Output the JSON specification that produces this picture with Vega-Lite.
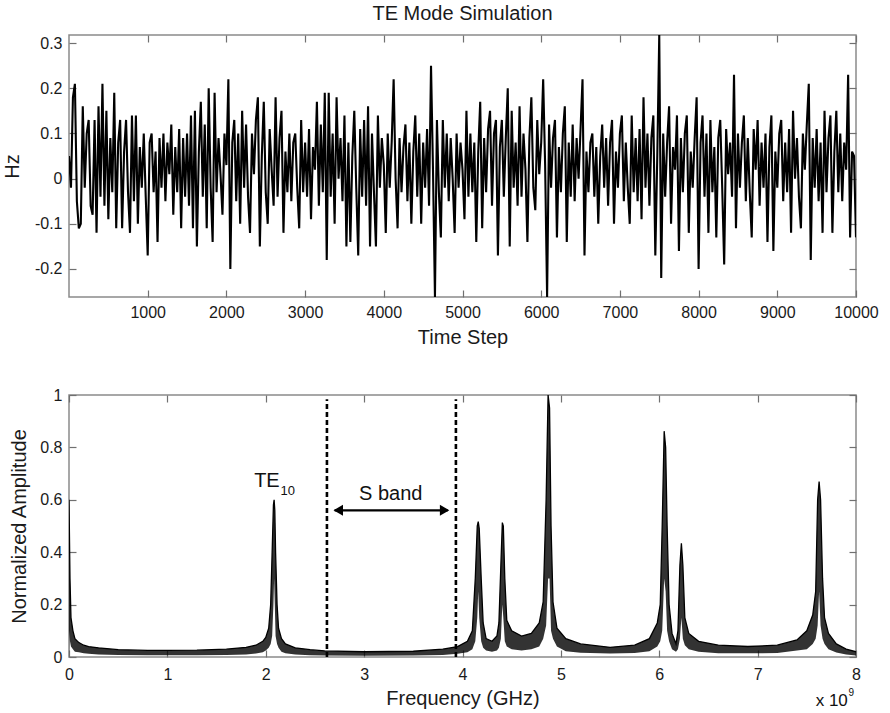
{
  "$schema": "https://vega.github.io/schema/vega-lite/v6.json",
  "padding": {"left": 1, "top": 3, "right": 14, "bottom": 5},
  "spacing": 38,
  "datasets": {
    "ts": [
      {"t":0,"v":0.05},{"t":25,"v":-0.02},{"t":50,"v":0.18},{"t":75,"v":0.21},{"t":100,"v":-0.05},{"t":125,"v":-0.11},{"t":150,"v":-0.1},{"t":175,"v":0.16},{"t":200,"v":-0.02},{"t":225,"v":0.1},
      {"t":250,"v":0.13},{"t":275,"v":-0.06},{"t":300,"v":-0.08},{"t":325,"v":0.13},{"t":350,"v":-0.12},{"t":375,"v":0.16},{"t":400,"v":-0.04},{"t":425,"v":0.21},{"t":450,"v":-0.06},{"t":475,"v":0.15},
      {"t":500,"v":-0.09},{"t":525,"v":0.09},{"t":550,"v":-0.03},{"t":575,"v":0.19},{"t":600,"v":-0.11},{"t":625,"v":0.08},{"t":650,"v":0.13},{"t":675,"v":-0.11},{"t":700,"v":0.06},{"t":725,"v":0.13},
      {"t":750,"v":-0.03},{"t":775,"v":-0.12},{"t":800,"v":0.14},{"t":825,"v":-0.05},{"t":850,"v":0.14},{"t":875,"v":-0.1},{"t":900,"v":0.07},{"t":925,"v":-0.02},{"t":950,"v":0.1},{"t":975,"v":-0.04},
      {"t":1000,"v":-0.17},{"t":1025,"v":0.08},{"t":1050,"v":0.1},{"t":1075,"v":-0.03},{"t":1100,"v":0.06},{"t":1125,"v":-0.14},{"t":1150,"v":0.09},{"t":1175,"v":-0.02},{"t":1200,"v":0.1},{"t":1225,"v":-0.05},
      {"t":1250,"v":0.08},{"t":1275,"v":0.01},{"t":1300,"v":0.12},{"t":1325,"v":-0.08},{"t":1350,"v":0.07},{"t":1375,"v":-0.03},{"t":1400,"v":0.11},{"t":1425,"v":-0.11},{"t":1450,"v":0.09},{"t":1475,"v":-0.04},
      {"t":1500,"v":0.1},{"t":1525,"v":-0.06},{"t":1550,"v":0.14},{"t":1575,"v":-0.11},{"t":1600,"v":0.15},{"t":1625,"v":-0.15},{"t":1650,"v":0.06},{"t":1675,"v":0.17},{"t":1700,"v":-0.04},{"t":1725,"v":0.12},
      {"t":1750,"v":-0.11},{"t":1775,"v":0.2},{"t":1800,"v":-0.02},{"t":1825,"v":-0.14},{"t":1850,"v":0.19},{"t":1875,"v":-0.03},{"t":1900,"v":0.09},{"t":1925,"v":0.01},{"t":1950,"v":-0.08},{"t":1975,"v":0.1},
      {"t":2000,"v":0.03},{"t":2025,"v":0.22},{"t":2050,"v":-0.2},{"t":2075,"v":0.08},{"t":2100,"v":0.13},{"t":2125,"v":-0.05},{"t":2150,"v":0.1},{"t":2175,"v":-0.1},{"t":2200,"v":0.15},{"t":2225,"v":-0.02},
      {"t":2250,"v":0.12},{"t":2275,"v":-0.04},{"t":2300,"v":-0.12},{"t":2325,"v":0.1},{"t":2350,"v":0.01},{"t":2375,"v":0.13},{"t":2400,"v":0.18},{"t":2425,"v":-0.15},{"t":2450,"v":0.05},{"t":2475,"v":0.17},
      {"t":2500,"v":-0.03},{"t":2525,"v":-0.1},{"t":2550,"v":0.11},{"t":2575,"v":0.02},{"t":2600,"v":-0.06},{"t":2625,"v":0.18},{"t":2650,"v":-0.04},{"t":2675,"v":0.09},{"t":2700,"v":0.15},{"t":2725,"v":-0.12},
      {"t":2750,"v":0.06},{"t":2775,"v":-0.03},{"t":2800,"v":0.1},{"t":2825,"v":-0.05},{"t":2850,"v":0.08},{"t":2875,"v":0.1},{"t":2900,"v":-0.02},{"t":2925,"v":-0.11},{"t":2950,"v":0.13},{"t":2975,"v":-0.03},
      {"t":3000,"v":0.08},{"t":3025,"v":-0.04},{"t":3050,"v":0.11},{"t":3075,"v":-0.09},{"t":3100,"v":0.07},{"t":3125,"v":0.02},{"t":3150,"v":0.17},{"t":3175,"v":-0.06},{"t":3200,"v":0.12},{"t":3225,"v":-0.03},
      {"t":3250,"v":0.19},{"t":3275,"v":-0.18},{"t":3300,"v":0.19},{"t":3325,"v":-0.04},{"t":3350,"v":0.1},{"t":3375,"v":-0.1},{"t":3400,"v":0.18},{"t":3425,"v":0.0},{"t":3450,"v":0.09},{"t":3475,"v":-0.05},
      {"t":3500,"v":0.14},{"t":3525,"v":-0.15},{"t":3550,"v":0.08},{"t":3575,"v":-0.14},{"t":3600,"v":0.05},{"t":3625,"v":0.15},{"t":3650,"v":-0.02},{"t":3675,"v":-0.17},{"t":3700,"v":0.11},{"t":3725,"v":-0.04},
      {"t":3750,"v":0.13},{"t":3775,"v":-0.06},{"t":3800,"v":0.16},{"t":3825,"v":-0.15},{"t":3850,"v":0.1},{"t":3875,"v":-0.03},{"t":3900,"v":-0.15},{"t":3925,"v":0.14},{"t":3950,"v":-0.02},{"t":3975,"v":0.09},
      {"t":4000,"v":0.03},{"t":4025,"v":-0.12},{"t":4050,"v":0.1},{"t":4075,"v":-0.02},{"t":4100,"v":0.08},{"t":4125,"v":0.22},{"t":4150,"v":0.0},{"t":4175,"v":-0.11},{"t":4200,"v":0.09},{"t":4225,"v":-0.03},
      {"t":4250,"v":0.07},{"t":4275,"v":0.12},{"t":4300,"v":-0.05},{"t":4325,"v":0.08},{"t":4350,"v":-0.1},{"t":4375,"v":0.06},{"t":4400,"v":0.14},{"t":4425,"v":-0.04},{"t":4450,"v":0.1},{"t":4475,"v":-0.1},
      {"t":4500,"v":0.08},{"t":4525,"v":-0.02},{"t":4550,"v":0.11},{"t":4575,"v":-0.06},{"t":4600,"v":0.25},{"t":4625,"v":0.02},{"t":4650,"v":-0.262},{"t":4675,"v":0.13},{"t":4700,"v":-0.03},{"t":4725,"v":-0.13},
      {"t":4750,"v":0.13},{"t":4775,"v":-0.02},{"t":4800,"v":0.1},{"t":4825,"v":-0.05},{"t":4850,"v":0.09},{"t":4875,"v":0.0},{"t":4900,"v":-0.12},{"t":4925,"v":0.1},{"t":4950,"v":-0.02},{"t":4975,"v":0.08},
      {"t":5000,"v":0.02},{"t":5025,"v":-0.09},{"t":5050,"v":0.15},{"t":5075,"v":-0.04},{"t":5100,"v":0.1},{"t":5125,"v":-0.03},{"t":5150,"v":0.08},{"t":5175,"v":-0.14},{"t":5200,"v":0.06},{"t":5225,"v":0.17},
      {"t":5250,"v":-0.11},{"t":5275,"v":0.09},{"t":5300,"v":-0.03},{"t":5325,"v":0.11},{"t":5350,"v":0.15},{"t":5375,"v":-0.06},{"t":5400,"v":0.1},{"t":5425,"v":0.13},{"t":5450,"v":-0.17},{"t":5475,"v":0.07},
      {"t":5500,"v":0.13},{"t":5525,"v":-0.04},{"t":5550,"v":0.09},{"t":5575,"v":0.2},{"t":5600,"v":-0.15},{"t":5625,"v":0.15},{"t":5650,"v":-0.02},{"t":5675,"v":0.08},{"t":5700,"v":-0.06},{"t":5725,"v":0.16},
      {"t":5750,"v":-0.04},{"t":5775,"v":0.1},{"t":5800,"v":0.02},{"t":5825,"v":-0.14},{"t":5850,"v":0.09},{"t":5875,"v":0.18},{"t":5900,"v":-0.02},{"t":5925,"v":-0.07},{"t":5950,"v":0.13},{"t":5975,"v":0.01},
      {"t":6000,"v":0.08},{"t":6025,"v":0.22},{"t":6050,"v":0.03},{"t":6075,"v":-0.262},{"t":6100,"v":0.12},{"t":6125,"v":-0.02},{"t":6150,"v":0.09},{"t":6175,"v":0.13},{"t":6200,"v":-0.13},{"t":6225,"v":0.07},
      {"t":6250,"v":-0.03},{"t":6275,"v":0.1},{"t":6300,"v":0.16},{"t":6325,"v":-0.14},{"t":6350,"v":0.08},{"t":6375,"v":-0.04},{"t":6400,"v":0.12},{"t":6425,"v":-0.05},{"t":6450,"v":0.09},{"t":6475,"v":0.0},
      {"t":6500,"v":0.11},{"t":6525,"v":0.22},{"t":6550,"v":-0.17},{"t":6575,"v":0.06},{"t":6600,"v":-0.03},{"t":6625,"v":0.08},{"t":6650,"v":0.1},{"t":6675,"v":-0.04},{"t":6700,"v":0.07},{"t":6725,"v":-0.1},
      {"t":6750,"v":0.05},{"t":6775,"v":0.12},{"t":6800,"v":-0.02},{"t":6825,"v":0.09},{"t":6850,"v":-0.06},{"t":6875,"v":0.08},{"t":6900,"v":0.13},{"t":6925,"v":-0.1},{"t":6950,"v":0.06},{"t":6975,"v":-0.02},
      {"t":7000,"v":0.1},{"t":7025,"v":0.14},{"t":7050,"v":-0.05},{"t":7075,"v":0.08},{"t":7100,"v":-0.02},{"t":7125,"v":-0.1},{"t":7150,"v":0.14},{"t":7175,"v":-0.03},{"t":7200,"v":0.09},{"t":7225,"v":-0.05},
      {"t":7250,"v":0.11},{"t":7275,"v":-0.09},{"t":7300,"v":0.18},{"t":7325,"v":-0.02},{"t":7350,"v":0.1},{"t":7375,"v":-0.06},{"t":7400,"v":0.09},{"t":7425,"v":0.14},{"t":7450,"v":-0.17},{"t":7475,"v":0.05},
      {"t":7500,"v":0.318},{"t":7525,"v":-0.22},{"t":7550,"v":0.1},{"t":7575,"v":-0.04},{"t":7600,"v":0.08},{"t":7625,"v":0.16},{"t":7650,"v":-0.1},{"t":7675,"v":0.07},{"t":7700,"v":0.02},{"t":7725,"v":0.14},
      {"t":7750,"v":-0.16},{"t":7775,"v":0.09},{"t":7800,"v":-0.03},{"t":7825,"v":0.1},{"t":7850,"v":0.14},{"t":7875,"v":-0.12},{"t":7900,"v":0.06},{"t":7925,"v":-0.02},{"t":7950,"v":0.09},{"t":7975,"v":0.18},
      {"t":8000,"v":-0.2},{"t":8025,"v":0.08},{"t":8050,"v":0.14},{"t":8075,"v":-0.04},{"t":8100,"v":0.1},{"t":8125,"v":-0.12},{"t":8150,"v":0.13},{"t":8175,"v":-0.03},{"t":8200,"v":0.07},{"t":8225,"v":-0.13},
      {"t":8250,"v":0.09},{"t":8275,"v":0.13},{"t":8300,"v":-0.02},{"t":8325,"v":-0.19},{"t":8350,"v":0.11},{"t":8375,"v":0.01},{"t":8400,"v":0.08},{"t":8425,"v":-0.04},{"t":8450,"v":0.23},{"t":8475,"v":-0.11},
      {"t":8500,"v":0.1},{"t":8525,"v":-0.02},{"t":8550,"v":0.08},{"t":8575,"v":0.14},{"t":8600,"v":-0.05},{"t":8625,"v":0.09},{"t":8650,"v":-0.03},{"t":8675,"v":-0.13},{"t":8700,"v":0.11},{"t":8725,"v":0.02},
      {"t":8750,"v":0.13},{"t":8775,"v":-0.06},{"t":8800,"v":0.08},{"t":8825,"v":-0.02},{"t":8850,"v":0.1},{"t":8875,"v":-0.14},{"t":8900,"v":0.07},{"t":8925,"v":0.14},{"t":8950,"v":-0.16},{"t":8975,"v":0.06},
      {"t":9000,"v":-0.02},{"t":9025,"v":0.1},{"t":9050,"v":0.13},{"t":9075,"v":-0.05},{"t":9100,"v":0.08},{"t":9125,"v":-0.03},{"t":9150,"v":0.11},{"t":9175,"v":-0.12},{"t":9200,"v":0.15},{"t":9225,"v":0.0},
      {"t":9250,"v":0.09},{"t":9275,"v":-0.04},{"t":9300,"v":-0.11},{"t":9325,"v":0.1},{"t":9350,"v":0.02},{"t":9375,"v":0.12},{"t":9400,"v":0.21},{"t":9425,"v":-0.18},{"t":9450,"v":0.09},{"t":9475,"v":-0.02},
      {"t":9500,"v":0.11},{"t":9525,"v":-0.05},{"t":9550,"v":0.08},{"t":9575,"v":-0.12},{"t":9600,"v":0.15},{"t":9625,"v":-0.03},{"t":9650,"v":0.09},{"t":9675,"v":0.14},{"t":9700,"v":-0.12},{"t":9725,"v":0.06},
      {"t":9750,"v":0.15},{"t":9775,"v":-0.03},{"t":9800,"v":0.1},{"t":9825,"v":-0.05},{"t":9850,"v":0.08},{"t":9875,"v":0.02},{"t":9900,"v":0.23},{"t":9925,"v":-0.13},{"t":9950,"v":0.06},{"t":9975,"v":0.05},
      {"t":10000,"v":-0.13}
    ],
    "sp": [
      {"f":0,"hi":0.6,"lo":0},{"f":0.005,"hi":0.45,"lo":0.1},{"f":0.01,"hi":0.3,"lo":0.06},{"f":0.02,"hi":0.15,"lo":0.04},{"f":0.04,"hi":0.1,"lo":0.03},
      {"f":0.06,"hi":0.07,"lo":0.02},{"f":0.1,"hi":0.055,"lo":0.018},{"f":0.15,"hi":0.045,"lo":0.014},{"f":0.2,"hi":0.04,"lo":0.012},{"f":0.3,"hi":0.035,"lo":0.01},
      {"f":0.5,"hi":0.028,"lo":0.008},{"f":0.8,"hi":0.025,"lo":0.007},{"f":1.0,"hi":0.025,"lo":0.007},{"f":1.3,"hi":0.026,"lo":0.007},{"f":1.6,"hi":0.03,"lo":0.008},
      {"f":1.8,"hi":0.037,"lo":0.01},{"f":1.9,"hi":0.045,"lo":0.013},{"f":1.97,"hi":0.06,"lo":0.018},{"f":2.0,"hi":0.075,"lo":0.025},{"f":2.03,"hi":0.11,"lo":0.035},
      {"f":2.05,"hi":0.2,"lo":0.05},{"f":2.065,"hi":0.4,"lo":0.08},{"f":2.078,"hi":0.58,"lo":0.2},{"f":2.085,"hi":0.6,"lo":0.3},{"f":2.092,"hi":0.56,"lo":0.2},
      {"f":2.1,"hi":0.4,"lo":0.08},{"f":2.115,"hi":0.2,"lo":0.05},{"f":2.13,"hi":0.11,"lo":0.035},{"f":2.16,"hi":0.07,"lo":0.02},{"f":2.2,"hi":0.05,"lo":0.014},
      {"f":2.3,"hi":0.035,"lo":0.01},{"f":2.45,"hi":0.028,"lo":0.007},{"f":2.6,"hi":0.023,"lo":0.006},{"f":3.0,"hi":0.02,"lo":0.005},{"f":3.5,"hi":0.022,"lo":0.006},
      {"f":3.8,"hi":0.03,"lo":0.008},{"f":3.95,"hi":0.04,"lo":0.012},{"f":4.05,"hi":0.06,"lo":0.018},{"f":4.1,"hi":0.1,"lo":0.03},{"f":4.13,"hi":0.3,"lo":0.06},
      {"f":4.15,"hi":0.5,"lo":0.15},{"f":4.16,"hi":0.517,"lo":0.25},{"f":4.17,"hi":0.49,"lo":0.15},{"f":4.19,"hi":0.3,"lo":0.06},{"f":4.21,"hi":0.13,"lo":0.035},
      {"f":4.24,"hi":0.07,"lo":0.025},{"f":4.3,"hi":0.06,"lo":0.02},{"f":4.35,"hi":0.08,"lo":0.025},{"f":4.37,"hi":0.13,"lo":0.035},{"f":4.39,"hi":0.35,"lo":0.07},
      {"f":4.405,"hi":0.513,"lo":0.2},{"f":4.415,"hi":0.5,"lo":0.15},{"f":4.43,"hi":0.3,"lo":0.06},{"f":4.45,"hi":0.14,"lo":0.04},{"f":4.5,"hi":0.1,"lo":0.03},
      {"f":4.6,"hi":0.08,"lo":0.025},{"f":4.7,"hi":0.09,"lo":0.03},{"f":4.78,"hi":0.13,"lo":0.04},{"f":4.82,"hi":0.21,"lo":0.07},{"f":4.85,"hi":0.6,"lo":0.12},
      {"f":4.87,"hi":1.0,"lo":0.3},{"f":4.885,"hi":0.95,"lo":0.3},{"f":4.9,"hi":0.5,"lo":0.1},{"f":4.92,"hi":0.21,"lo":0.07},{"f":4.96,"hi":0.11,"lo":0.04},
      {"f":5.05,"hi":0.07,"lo":0.022},{"f":5.2,"hi":0.05,"lo":0.016},{"f":5.5,"hi":0.037,"lo":0.013},{"f":5.75,"hi":0.045,"lo":0.015},{"f":5.9,"hi":0.07,"lo":0.022},
      {"f":5.98,"hi":0.13,"lo":0.04},{"f":6.01,"hi":0.2,"lo":0.06},{"f":6.03,"hi":0.5,"lo":0.1},{"f":6.05,"hi":0.862,"lo":0.3},{"f":6.065,"hi":0.8,"lo":0.25},
      {"f":6.08,"hi":0.5,"lo":0.1},{"f":6.1,"hi":0.2,"lo":0.06},{"f":6.13,"hi":0.09,"lo":0.03},{"f":6.17,"hi":0.05,"lo":0.02},{"f":6.19,"hi":0.1,"lo":0.03},
      {"f":6.21,"hi":0.35,"lo":0.07},{"f":6.225,"hi":0.434,"lo":0.15},{"f":6.24,"hi":0.35,"lo":0.07},{"f":6.26,"hi":0.15,"lo":0.045},{"f":6.3,"hi":0.09,"lo":0.03},
      {"f":6.4,"hi":0.06,"lo":0.02},{"f":6.6,"hi":0.045,"lo":0.014},{"f":6.9,"hi":0.04,"lo":0.014},{"f":7.2,"hi":0.045,"lo":0.015},{"f":7.4,"hi":0.065,"lo":0.025},
      {"f":7.5,"hi":0.1,"lo":0.03},{"f":7.56,"hi":0.16,"lo":0.05},{"f":7.59,"hi":0.25,"lo":0.07},{"f":7.61,"hi":0.6,"lo":0.12},{"f":7.625,"hi":0.67,"lo":0.25},
      {"f":7.64,"hi":0.6,"lo":0.12},{"f":7.66,"hi":0.3,"lo":0.07},{"f":7.68,"hi":0.15,"lo":0.05},{"f":7.72,"hi":0.09,"lo":0.03},{"f":7.8,"hi":0.05,"lo":0.017},
      {"f":7.9,"hi":0.03,"lo":0.01},{"f":8.0,"hi":0.02,"lo":0.006}
    ],
    "band": [{"f":2.622},{"f":3.933}],
    "arrow": [{"f":2.70,"y":0.56},{"f":3.85,"y":0.56}],
    "arrowL": [{"f":2.737,"y":0.56}],
    "arrowR": [{"f":3.818,"y":0.56}],
    "labels": [{"f":2.012,"y":0.671,"label":"TE"},{"f":3.27,"y":0.622,"label":"S band"}],
    "sub": [{"f":2.15,"y":0.633,"label":"10"}],
    "exp": [{"f":7.917,"y":-0.169,"label":"x 10"}],
    "expSup": [{"f":7.925,"y":-0.139,"label":"9"}]
  },
  "vconcat": [
    {
      "width": 787,
      "height": 262,
      "title": {"text": "TE Mode Simulation", "frame": "group", "offset": 10},
      "layer": [
        {
          "data": {"name": "ts"},
          "mark": {"type": "line", "color": "#000000", "strokeWidth": 2.1, "clip": true},
          "encoding": {
            "x": {"field": "t", "type": "quantitative",
                  "scale": {"domain": [0, 10000], "nice": false, "zero": false},
                  "axis": {"title": "Time Step", "values": [1000,2000,3000,4000,5000,6000,7000,8000,9000,10000], "format": "d", "labelPadding": 14, "titlePadding": 7}},
            "y": {"field": "v", "type": "quantitative",
                  "scale": {"domain": [-0.262, 0.318], "nice": false, "zero": false},
                  "axis": {"title": "Hz", "values": [-0.2,-0.1,0,0.1,0.2,0.3], "format": "~g", "labelExpr": "replace(datum.label, '\u2212', '-')", "labelPadding": 14, "titlePadding": 12}}
          }
        },
        {
          "data": {"values": [{"t": 5000, "v": 0}]},
          "mark": {"type": "point", "opacity": 0},
          "encoding": {
            "x": {"field": "t", "type": "quantitative", "axis": {"orient": "top", "labels": false, "title": null, "values": [1000,2000,3000,4000,5000,6000,7000,8000,9000,10000]}},
            "y": {"field": "v", "type": "quantitative", "axis": {"orient": "right", "labels": false, "title": null, "values": [-0.2,-0.1,0,0.1,0.2,0.3]}}
          }
        }
      ],
      "resolve": {"axis": {"x": "independent", "y": "independent"}}
    },
    {
      "width": 787,
      "height": 262,
      "layer": [
        {
          "data": {"name": "sp"},
          "mark": {"type": "area", "color": "#000000", "opacity": 0.8, "clip": true},
          "encoding": {
            "x": {"field": "f", "type": "quantitative",
                  "scale": {"domain": [0, 8], "nice": false, "zero": false},
                  "axis": {"title": "Frequency (GHz)", "values": [0,1,2,3,4,5,6,7,8], "labelPadding": 16, "titlePadding": 6}},
            "y": {"field": "hi", "type": "quantitative",
                  "scale": {"domain": [0, 1], "nice": false, "zero": false},
                  "axis": {"title": "Normalized Amplitude", "values": [0,0.2,0.4,0.6,0.8,1], "format": "~g", "labelPadding": 14, "titlePadding": 10}},
            "y2": {"field": "lo"}
          }
        },
        {
          "data": {"values": [{"f": 4, "hi": 0.5}]},
          "mark": {"type": "point", "opacity": 0},
          "encoding": {
            "x": {"field": "f", "type": "quantitative", "axis": {"orient": "top", "labels": false, "title": null, "values": [0,1,2,3,4,5,6,7,8]}},
            "y": {"field": "hi", "type": "quantitative", "axis": {"orient": "right", "labels": false, "title": null, "values": [0,0.2,0.4,0.6,0.8,1]}}
          }
        },
        {
          "data": {"name": "sp"},
          "mark": {"type": "line", "color": "#000000", "strokeWidth": 1.3, "clip": true},
          "encoding": {
            "x": {"field": "f", "type": "quantitative", "axis": null},
            "y": {"field": "hi", "type": "quantitative", "axis": null}
          }
        },
        {
          "data": {"name": "band"},
          "mark": {"type": "rule", "color": "#000000", "strokeWidth": 2.6, "strokeDash": [5, 3]},
          "encoding": {
            "x": {"field": "f", "type": "quantitative", "axis": null},
            "y": {"datum": 0, "axis": null},
            "y2": {"datum": 0.984}
          }
        },
        {
          "data": {"name": "arrow"},
          "mark": {"type": "line", "color": "#000000", "strokeWidth": 2.2},
          "encoding": {
            "x": {"field": "f", "type": "quantitative", "axis": null},
            "y": {"field": "y", "type": "quantitative", "axis": null}
          }
        },
        {
          "data": {"name": "arrowL"},
          "mark": {"type": "point", "shape": "triangle-left", "filled": true, "color": "#000000", "size": 120, "opacity": 1},
          "encoding": {
            "x": {"field": "f", "type": "quantitative", "axis": null},
            "y": {"field": "y", "type": "quantitative", "axis": null}
          }
        },
        {
          "data": {"name": "arrowR"},
          "mark": {"type": "point", "shape": "triangle-right", "filled": true, "color": "#000000", "size": 120, "opacity": 1},
          "encoding": {
            "x": {"field": "f", "type": "quantitative", "axis": null},
            "y": {"field": "y", "type": "quantitative", "axis": null}
          }
        },
        {
          "data": {"name": "labels"},
          "mark": {"type": "text", "fontSize": 20, "color": "#111111", "align": "center", "baseline": "middle"},
          "encoding": {
            "x": {"field": "f", "type": "quantitative", "axis": null},
            "y": {"field": "y", "type": "quantitative", "axis": null},
            "text": {"field": "label"}
          }
        },
        {
          "data": {"name": "sub"},
          "mark": {"type": "text", "fontSize": 13, "color": "#111111", "align": "left", "baseline": "middle"},
          "encoding": {
            "x": {"field": "f", "type": "quantitative", "axis": null},
            "y": {"field": "y", "type": "quantitative", "axis": null},
            "text": {"field": "label"}
          }
        },
        {
          "data": {"name": "exp"},
          "mark": {"type": "text", "fontSize": 17, "color": "#111111", "align": "right", "baseline": "middle"},
          "encoding": {
            "x": {"field": "f", "type": "quantitative", "axis": null},
            "y": {"field": "y", "type": "quantitative", "axis": null},
            "text": {"field": "label"}
          }
        },
        {
          "data": {"name": "expSup"},
          "mark": {"type": "text", "fontSize": 10, "color": "#111111", "align": "left", "baseline": "middle"},
          "encoding": {
            "x": {"field": "f", "type": "quantitative", "axis": null},
            "y": {"field": "y", "type": "quantitative", "axis": null},
            "text": {"field": "label"}
          }
        }
      ],
      "resolve": {"axis": {"x": "independent", "y": "independent"}}
    }
  ],
  "config": {
    "font": "Liberation Sans",
    "background": "#ffffff",
    "view": {"stroke": "#8a8a8a", "strokeWidth": 1.5},
    "axis": {
      "domain": false,
      "grid": false,
      "ticks": true,
      "tickColor": "#707070",
      "tickSize": -7,
      "tickWidth": 1.2,
      "labelFont": "Liberation Sans",
      "labelFontSize": 16,
      "labelColor": "#1a1a1a",
      "labelPadding": 6,
      "labelFlush": false,
      "labelOverlap": false,
      "titleFont": "Liberation Sans",
      "titleFontSize": 20,
      "titleFontWeight": "normal",
      "titleColor": "#1a1a1a"
    },
    "title": {"font": "Liberation Sans", "fontSize": 20, "fontWeight": "normal", "color": "#1a1a1a"},
    "text": {"font": "Liberation Sans"}
  }
}
